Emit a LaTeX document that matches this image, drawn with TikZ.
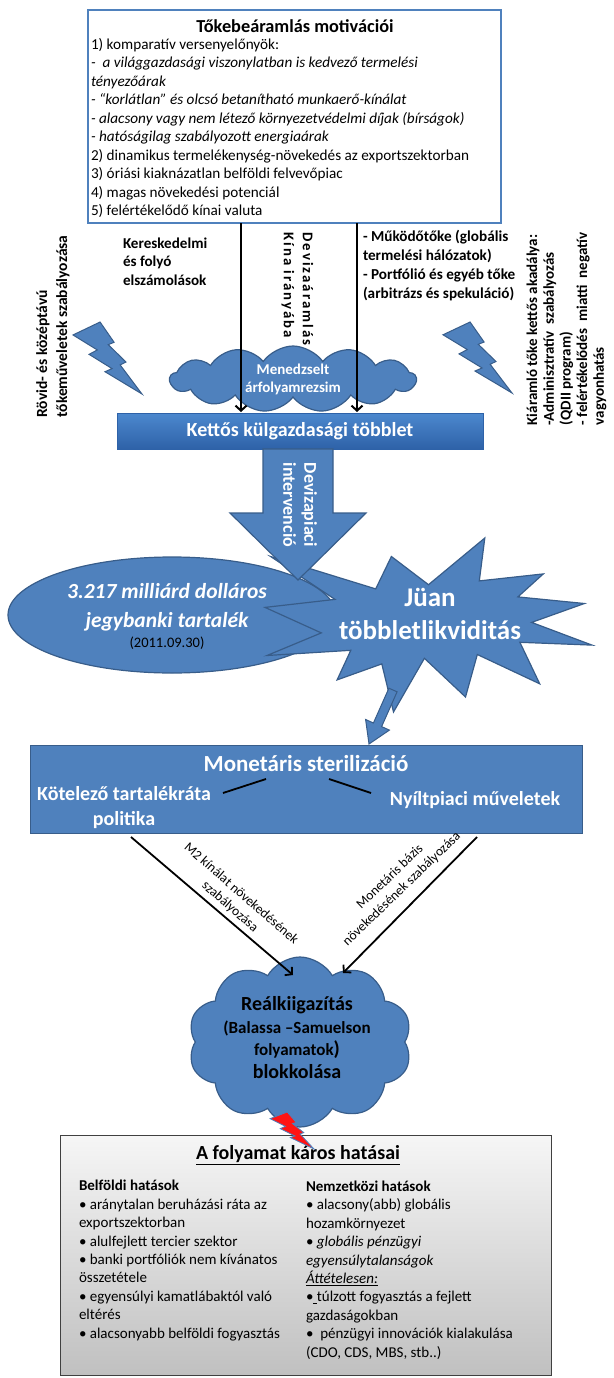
\documentclass[tikz,border=0pt]{standalone}
\usepackage{fontspec}
\setmainfont{Carlito}
\newfontfamily\spacedfont[LetterSpace=14]{Carlito}
\usetikzlibrary{shapes.symbols,shapes.geometric,arrows.meta}
\definecolor{pblue}{RGB}{79,129,189}
\definecolor{pblueD}{RGB}{56,93,138}
\definecolor{barTop}{RGB}{76,136,206}
\definecolor{barBot}{RGB}{46,98,168}
\definecolor{boxTop}{RGB}{246,246,246}
\definecolor{boxBot}{RGB}{192,192,192}
\definecolor{boltRed}{RGB}{255,20,20}
\newcommand\fsz[2]{\fontsize{#1}{#2}\selectfont}
\begin{document}
\begin{tikzpicture}[x=1pt,y=-1pt,
  blk/.style={inner sep=0pt, outer sep=0pt},
  bluefill/.style={fill=pblue, draw=pblueD, line width=1.2pt},
  conn/.style={line width=2pt, -{Straight Barb[length=5pt,width=11pt]}},
  zap/.pic={\draw[pic actions, line join=miter] (.3922,0) -- (.5954,.2815) -- (.5116,.3147) -- (.7675,.5559) -- (.6837,.5961) -- (1,1) -- (.4635,.6905) -- (.5658,.6475) -- (.2325,.4493) -- (.3519,.3881) -- (0,.1801) -- cycle;}
]
\useasboundingbox (0,0) rectangle (613,1378);

% ---------- top box ----------
\node[blk, draw=pblue, line width=1.6pt, fill=white, minimum width=413pt, minimum height=213pt, anchor=north west] (motiv) at (88,10) {};
\node[blk, font=\bfseries\fsz{18.3}{22}] (motivtitle) at (295,26) {Tőkebeáramlás motivációi};
\node[blk, anchor=west, align=left, font=\fsz{15.2}{18.45}] (motivbody) at (91,128) {1) komparatív versenyelőnyök:\\
\textit{-\ \ a világgazdasági viszonylatban is kedvező termelési}\\
\textit{tényezőárak}\\
\textit{- “korlátlan” és olcsó betanítható munkaerő-kínálat}\\
\textit{- alacsony vagy nem létező környezetvédelmi díjak (bírságok)}\\
\textit{- hatóságilag szabályozott energiaárak}\\
2) dinamikus termelékenység-növekedés az exportszektorban\\
3) óriási kiaknázatlan belföldi felvevőpiac\\
4) magas növekedési potenciál\\
5) felértékelődő kínai valuta};

% ---------- managed exchange rate cloud and bar ----------
\node[cloud, cloud puffs=13, cloud puff arc=110, cloud ignores aspect, bluefill, minimum width=246pt, minimum height=66pt, inner sep=0pt] (mcloud) at (293,379) {};
\node[blk, align=center, text=white, font=\bfseries\fsz{15}{18}] (mtext) at (293,379) {Menedzselt\\árfolyamrezsim};

\node[blk, draw=barBot, top color=barTop, bottom color=barBot, minimum width=366pt, minimum height=36pt, anchor=north west] (bar) at (117,413) {};
\node[blk, text=white, font=\bfseries\fsz{20}{24}] (bartext) at (bar.center) {Kettős külgazdasági többlet};

\coordinate (a1s) at (241,223); \coordinate (a1e) at (241,412);
\coordinate (a2s) at (357,223); \coordinate (a2e) at (357,412);
\draw[conn] (a1s) -- (a1e);
\draw[conn] (a2s) -- (a2e);

\node[blk, rotate=-90, align=left, font=\spacedfont\bfseries\fsz{14.8}{19}] (devflow) at (297.5,289) {Devizaáramlás\\Kína irányába};
\node[blk, anchor=west, align=left, font=\bfseries\fsz{15.1}{18.5}] (trade) at (123,261.5) {Kereskedelmi\\és folyó\\elszámolások};
\node[blk, anchor=west, align=left, font=\bfseries\fsz{15.2}{19}] (capital) at (363,265.5) {- Működőtőke (globális\\termelési hálózatok)\\- Portfólió és egyéb tőke\\(arbitrázs és spekuláció)};

% ---------- side texts and bolts ----------
\node[blk, rotate=90, align=left, font=\bfseries\fsz{15.5}{20}] (shortterm) at (53,326.5) {Rövid- és középtávú\\tőkeműveletek szabályozása};
\path (73,322) pic[x=69pt, y=-72pt, fill=pblue, draw=pblueD, line width=1pt] {zap};
\node[blk, rotate=90, align=left, font=\bfseries\fsz{15}{16.7}] (outflow) at (566.5,329) {Kiáramló tőke kettős akadálya:\\-Adminisztratív\ \ szabályozás\\(QDII program)\\- felértékelődés\ \ miatti\ \ negatív\\vagyonhatás};
\path (443,322) pic[x=69pt, y=-71pt, fill=pblue, draw=pblueD, line width=1pt] {zap};

% ---------- reserves ellipse and liquidity star ----------
\node[ellipse, bluefill, minimum width=328pt, minimum height=116pt, inner sep=0pt] (reserve) at (172,615) {};
\draw[bluefill, line join=miter] (428.5,584.7) -- (484.8,538) -- (479.3,580.9) -- (543.3,573.9) -- (517.9,596.9) -- (584.4,603.5) -- (531.6,622.4) -- (592,645.1) -- (519.9,642.3) -- (539.7,683.8) -- (477.3,654.5) -- (465.5,697) -- (424.4,658.3) -- (393.5,712) -- (381.8,663.9) -- (337.1,679.9) -- (350.8,650.3) -- (267,655.5) -- (321.3,632.9) -- (265,607.4) -- (335,599.4) -- (270.6,556.5) -- (375.7,588.9) -- (391.4,556.5) -- cycle;
\node[blk, align=center, text=white, font=\bfseries\itshape\fsz{21.5}{29}] (restext) at (167,607.5) {3.217 milliárd dolláros\\jegybanki tartalék};
\node[blk, font=\fsz{14.5}{17}] (resdate) at (167,643) {(2011.09.30)};
\node[blk, align=center, text=white, font=\bfseries\fsz{27}{33}] (liq) at (430,613.5) {Jüan\\többletlikviditás};

% big arrow
\draw[bluefill, line join=miter] (263,449) -- (333,449) -- (333,513) -- (366,513) -- (298,580) -- (230,513) -- (263,513) -- cycle;
\node[blk, rotate=-90, align=left, text=white, font=\bfseries\fsz{18}{21}] (interv) at (300,505) {Devizapiaci\\intervenció};

% small arrow
\draw[bluefill, line width=1pt, line join=miter] (397.1,691.8) -- (381.6,726.6) -- (389.4,730.1) -- (369,744) -- (365.6,719.5) -- (373.4,723.0) -- (388.9,688.2) -- cycle;

% ---------- sterilisation box ----------
\node[blk, fill=pblue, draw=pblueD, line width=1pt, minimum width=552pt, minimum height=88pt, anchor=north west] (steril) at (30,745) {};
\node[blk, text=white, font=\bfseries\fsz{23}{27}] (sttitle) at (306,764) {Monetáris sterilizáció};
\node[blk, align=center, text=white, font=\bfseries\fsz{20}{25}] (reqres) at (124,808) {Kötelező tartalékráta\\politika};
\node[blk, text=white, font=\bfseries\fsz{20}{24}] (omo) at (475,800) {Nyíltpiaci műveletek};
\coordinate (l1a) at (266,779); \coordinate (l1b) at (223,793);
\coordinate (l2a) at (329,779); \coordinate (l2b) at (371,793);
\draw[line width=1.8pt] (l1a) -- (l1b);
\draw[line width=1.8pt] (l2a) -- (l2b);

% ---------- real adjustment cloud ----------
\node[cloud, cloud puffs=10, cloud puff arc=120, cloud ignores aspect, bluefill, minimum width=224pt, minimum height=170pt, inner sep=0pt] (real) at (300,1042) {};
\node[blk, align=center, font=\bfseries\fsz{17}{22.6}] (realtext) at (297,1037.5) {{\fsz{20}{24}Reálkiigazítás}\\(Balassa –Samuelson\\folyamatok{\fsz{20}{24})}\\{\fsz{20}{24}blokkolása}};

\coordinate (d1s) at (131,837); \coordinate (d1e) at (293,975);
\coordinate (d2s) at (477,837); \coordinate (d2e) at (343,973);
\draw[conn, line width=1.8pt] (d1s) -- (d1e);
\draw[conn, line width=1.8pt] (d2s) -- (d2e);
\node[blk, rotate=-41, align=center, font=\fsz{13.5}{17}] (m2lab) at (235.5,900.5) {M2 kínálat növekedésének\\szabályozása};
\node[blk, rotate=44, align=center, font=\fsz{13.5}{17}] (mblab) at (396,883) {Monetáris bázis\\növekedésének szabályozása};

% ---------- harmful effects box ----------
\node[blk, draw=black!75, line width=1pt, top color=boxTop, bottom color=boxBot, minimum width=491pt, minimum height=240pt, anchor=north west] (harm) at (60,1135) {};
\node[blk, font=\bfseries\fsz{20}{24}] (harmtitle) at (298,1155) {\underline{A folyamat káros hatásai}};
\node[blk, anchor=west, align=left, font=\fsz{15}{18.4}] (domestic) at (79,1260.5) {\textbf{Belföldi hatások}\\
• aránytalan beruházási ráta az\\
exportszektorban\\
• alulfejlett tercier szektor\\
• banki portfóliók nem kívánatos\\
összetétele\\
• egyensúlyi kamatlábaktól való\\
eltérés\\
• alacsonyabb belföldi fogyasztás};
\node[blk, anchor=west, align=left, font=\fsz{15}{18.4}] (intl) at (306,1270) {\textbf{Nemzetközi hatások}\\
• alacsony(abb) globális\\
hozamkörnyezet\\
• \textit{globális pénzügyi}\\
\textit{egyensúlytalanságok}\\
\textit{\underline{Áttételesen:}}\\
•\underline{\ }túlzott fogyasztás a fejlett\\
gazdaságokban\\
•\ \ pénzügyi innovációk kialakulása\\
(CDO, CDS, MBS, stb..)};

\path (270,1112) pic[x=44pt, y=-37pt, fill=boltRed, draw=pblue, line width=0.8pt] {zap};
\end{tikzpicture}
\end{document}
